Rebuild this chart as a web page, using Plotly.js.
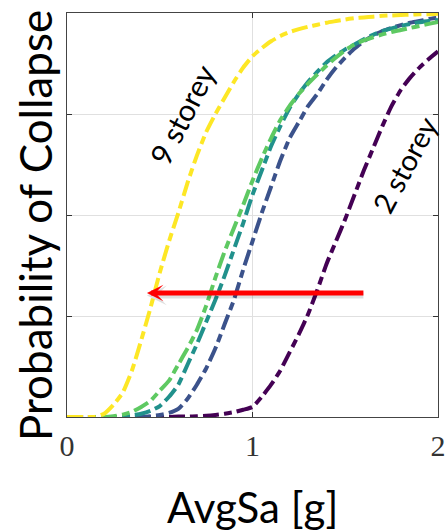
<!DOCTYPE html>
<html>
<head>
<meta charset="utf-8">
<script src="https://cdn.plot.ly/plotly-3.0.1.min.js"></script>
<style>html,body{margin:0;padding:0;background:#fff;}#chart{width:447px;height:532px;}</style>
</head>
<body>
<div id="chart"></div>
<script>
// Shared x grid (AvgSa [g])
const avgSa = [0,0.05,0.1,0.15,0.2,0.25,0.3,0.35,0.4,0.45,0.5,0.55,0.6,0.65,0.7,0.75,0.8,0.85,0.9,0.95,
               1.0,1.05,1.1,1.15,1.2,1.25,1.3,1.35,1.4,1.45,1.5,1.55,1.6,1.65,1.7,1.75,1.8,1.85,1.9,1.95,2.0];

// Probability of collapse for each building
const storey2 = [0,0,0,0,0,0,0,0,0,0,0,0,0.001,0.001,0.002,0.003,0.005,0.008,0.012,0.018,
                 0.025,0.05,0.08,0.115,0.16,0.205,0.255,0.315,0.38,0.435,0.49,0.55,0.61,0.665,0.72,0.77,0.81,0.84,0.865,0.886,0.905];
const storeyB = [0,0,0,0,0,0,0,0,0,0.002,0.005,0.01,0.02,0.045,0.08,0.12,0.17,0.23,0.29,0.365,
                 0.435,0.505,0.57,0.635,0.69,0.73,0.77,0.80,0.835,0.865,0.89,0.912,0.93,0.944,0.955,0.963,0.97,0.976,0.98,0.985,0.988];
const storeyC = [0,0,0,0,0,0,0.001,0.004,0.008,0.015,0.027,0.05,0.08,0.13,0.18,0.235,0.29,0.35,0.415,0.48,
                 0.55,0.61,0.67,0.72,0.765,0.80,0.83,0.855,0.878,0.895,0.91,0.922,0.935,0.946,0.955,0.962,0.968,0.973,0.977,0.98,0.983];
const storeyD = [0,0,0,0,0,0.002,0.006,0.013,0.025,0.04,0.065,0.09,0.13,0.17,0.215,0.275,0.345,0.41,0.468,0.525,
                 0.585,0.64,0.69,0.735,0.77,0.80,0.825,0.848,0.87,0.89,0.908,0.922,0.932,0.94,0.947,0.953,0.958,0.963,0.968,0.973,0.978];
const storey9 = [0,0,0,0,0.008,0.03,0.06,0.115,0.19,0.27,0.357,0.435,0.505,0.58,0.647,0.705,0.75,0.79,0.83,0.865,
                 0.893,0.913,0.93,0.943,0.953,0.96,0.966,0.971,0.976,0.98,0.984,0.987,0.989,0.991,0.993,0.994,0.995,0.996,0.997,0.997,0.998];

const seriesNames = ["2 storey","Building B","Building C","Building D","9 storey"];
const seriesValues = [storey2, storeyB, storeyC, storeyD, storey9];
const seriesColors = ["#440154","#3b528b","#21918c","#5ec962","#fde725"];

const xTickVals = [0,1,2];
const xTickText = ["0","1","2"];
const yTickVals = [0,0.25,0.5,0.75,1];

// Arrow (tail -> head) in data units
const arrowTail = {x:1.606, y:0.307};
const arrowHead = {x:0.431, y:0.307};

const traces = seriesValues.map((v,i)=>({
  x: avgSa, y: v, type:'scatter', mode:'lines', name: seriesNames[i],
  line:{color: seriesColors[i], width:4, dash:'16px,5px,8px,5px', shape:'spline', smoothing:0.5},
  hoverinfo:'skip'
}));

const layout = {
  width:447, height:532,
  margin:{l:67, r:9, t:13, b:115},
  paper_bgcolor:'#ffffff', plot_bgcolor:'#ffffff',
  showlegend:false,
  xaxis:{
    range:[0,2], tickvals:xTickVals, ticktext:xTickText,
    ticks:'inside', ticklen:5, tickcolor:'#333',
    showline:true, linecolor:'#444', linewidth:1.2, mirror:'ticks',
    showgrid:true, gridcolor:'#e0e0e0', gridwidth:1, zeroline:false,
    tickfont:{family:'Liberation Serif, Times New Roman, serif', size:30, color:'#333'},
    ticklabelstandoff:2
  },
  yaxis:{
    range:[0,1], tickvals:yTickVals, showticklabels:false,
    ticks:'inside', ticklen:5, tickcolor:'#333',
    showline:true, linecolor:'#444', linewidth:1.2, mirror:'ticks',
    showgrid:true, gridcolor:'#e0e0e0', gridwidth:1, zeroline:false
  },
  annotations:[
    {xref:'x', yref:'y', axref:'x', ayref:'y', x:arrowHead.x, y:arrowHead.y-0.006, ax:arrowTail.x, ay:arrowTail.y-0.006,
     showarrow:true, arrowhead:3, arrowsize:0.55, arrowwidth:6, arrowcolor:'rgba(0,0,0,0.12)', text:''},
    {xref:'x', yref:'y', axref:'x', ayref:'y', x:arrowHead.x, y:arrowHead.y, ax:arrowTail.x, ay:arrowTail.y,
     showarrow:true, arrowhead:3, arrowsize:0.55, arrowwidth:5, arrowcolor:'#ff0000', text:''},
    {xref:'x', yref:'y', x:0.62, y:0.75, text:'9 storey', showarrow:false, textangle:-63,
     font:{family:'Lato, Noto Sans, sans-serif', size:30, color:'#000'}},
    {xref:'x', yref:'y', x:1.82, y:0.624, text:'2 storey', showarrow:false, textangle:-62,
     font:{family:'Lato, Noto Sans, sans-serif', size:29, color:'#000'}},
    {xref:'paper', yref:'paper', x:0.5, y:-0.222, text:'AvgSa [g]', showarrow:false,
     xanchor:'center', yanchor:'middle', font:{family:'Lato, Noto Sans, sans-serif', size:42, color:'#000'}},
    {xref:'paper', yref:'paper', x:-0.086, y:0.473, text:'Probability of Collapse', showarrow:false, textangle:-90,
     xanchor:'center', yanchor:'middle', font:{family:'Lato, Noto Sans, sans-serif', size:44, color:'#000'}}
  ]
};

Plotly.newPlot('chart', traces, layout, {displayModeBar:false, staticPlot:true});
</script>
</body>
</html>
